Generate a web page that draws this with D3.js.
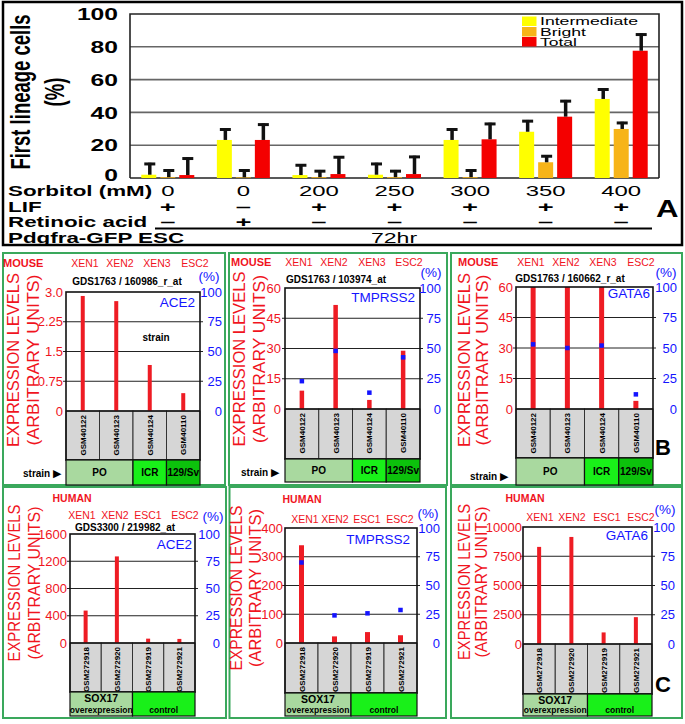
<!DOCTYPE html>
<html><head><meta charset="utf-8">
<script src="https://cdn.jsdelivr.net/npm/d3@7"></script>
<style>body{margin:0;background:#fff}svg{display:block}text{font-family:"Liberation Sans",Arial,Helvetica,sans-serif}</style>
</head><body><svg id="c" width="685" height="724"></svg>
<script>
// ---------- Panel A data ----------
const sorbitol = ["0","0","200","250","300","350","400"];
const lif = ["+","–","+","+","+","+","+"];
const retinoicAcid = ["–","+","–","–","–","–","–"];
const seriesNames = ["Intermediate","Bright","Total"];
const intermediate = [2, 23.2, 1.8, 2, 23.2, 28.2, 48.2];
const intermediateErr = [7.3, 7.1, 6.7, 7.3, 7.1, 7.2, 6.5];
const bright = [0.5, 0.4, 0.5, 0.5, 0.5, 9.6, 29.9];
const brightErr = [4.8, 4.9, 4.4, 4.4, 4.8, 4.4, 4.4];
const total = [1.8, 23.2, 2.4, 2.4, 23.6, 37.4, 77.6];
const totalErr = [10.8, 10.1, 11, 11.2, 10.1, 10.2, 10.6];
const percentTicksA = ["0","20","40","60","80","100"];

// ---------- Panels B / C data ----------
const mouseCellTypes = ["XEN1","XEN2","XEN3","ESC2"];
const mouseSamples = ["GSM40122","GSM40123","GSM40124","GSM40110"];
const mouseStrains = ["PO","ICR","129/Sv"];
const mouseStrainSpan = [2,1,1];
const humanCellTypes = ["XEN1","XEN2","ESC1","ESC2"];
const humanSamples = ["GSM272918","GSM272920","GSM272919","GSM272921"];
const humanGroups = ["SOX17\noverexpression","control"];
const humanGroupSpan = [2,2];
const percentTicks = ["0","25","50","75","100"];

const mouseACE2 = [2.9, 2.77, 1.16, 0.45];
const mouseACE2Ticks = ["0","0.75","1.5","2.25","3.0"];
const mouseTMPRSS2 = [9.1, 51.6, 4.5, 28.9];
const mouseTMPRSS2Pct = [23, 48, 13.5, 42.7];
const mouseTMPRSS2Ticks = ["0","15","30","45","60"];
const mouseGATA6 = [60, 60, 60, 4];
const mouseGATA6Pct = [53, 50, 52, 12];
const mouseGATA6Ticks = ["0","15","30","45","60"];
const humanACE2 = [476, 1271, 64, 60];
const humanACE2Ticks = ["0","400","800","1200","1600"];
const humanTMPRSS2 = [340, 23, 38, 27];
const humanTMPRSS2Pct = [70, 24, 25.8, 28.7];
const humanTMPRSS2Ticks = ["0","100","200","300","400"];
const humanGATA6 = [8300, 9150, 990, 2295];
const humanGATA6Ticks = ["0","2500","5000","7500","10000"];

// ---------- styles ----------
const GREEN = "#3aa85c", RED = "#ee1c24", TXTRED = "#f0141e", BLUE = "#1414ff";
const COLA = {Intermediate:"#ffff00", Bright:"#f7b418", Total:"#f40000"};
const svg = d3.select("#c");

function st(parent, x, y, str, o = {}) {
  const t = parent.append("text")
    .attr("transform", `translate(${x},${y}) scale(${o.sx || 1},1)` + (o.rot ? ` rotate(${o.rot})` : ""))
    .attr("text-anchor", o.anchor || "start")
    .attr("font-size", o.size || 12)
    .attr("font-weight", o.weight || "normal")
    .attr("fill", o.fill || "#000")
    .text(str);
  if (o.len) t.attr("textLength", o.len).attr("lengthAdjust", "spacingAndGlyphs");
  if (o.dy) t.attr("dy", o.dy);
  return t;
}

// =================== PANEL A ===================
(function () {
  const SX = 1.45;
  const A = {L: 130, R: 659, T: 14, B: 178};
  const g = svg.append("g");
  g.append("rect").attr("x", 3).attr("y", 2).attr("width", 679).attr("height", 243)
    .attr("fill", "none").attr("stroke", "#000").attr("stroke-width", 2.5);
  const y = d3.scaleLinear().domain([0, 100]).range([A.B, A.T]);
  const x = d3.scaleBand().domain(d3.range(sorbitol.length)).range([A.L, A.R]);
  const xs = d3.scalePoint().domain(seriesNames).range([-19, 19]);
  const ticks = percentTicksA.map(Number);
  g.selectAll(null).data(ticks.filter(d => d > 0 && d < 100)).join("line")
    .attr("x1", A.L).attr("x2", A.R).attr("y1", d => y(d)).attr("y2", d => y(d))
    .attr("stroke", "#666").attr("stroke-width", 1.6);
  g.append("path").attr("d", `M${A.L},${A.B}V${A.T}H${A.R}V${A.B}`)
    .attr("fill", "none").attr("stroke", "#222").attr("stroke-width", 1.6);
  g.append("line").attr("x1", A.L).attr("x2", A.R).attr("y1", A.B).attr("y2", A.B)
    .attr("stroke", "#222").attr("stroke-width", 1.6);
  percentTicksA.forEach(t => st(g, 118, y(+t) - (+t === 0 ? 3 : 0), t, {size: 17, weight: "bold", anchor: "end", sx: SX, dy: "0.36em"}));
  st(g, 30, 92, "First lineage cells", {size: 18.5, weight: "bold", anchor: "middle", sx: SX, rot: -90});
  st(g, 64, 92, "(%)", {size: 18.5, weight: "bold", anchor: "middle", sx: SX, rot: -90});

  const series = [
    {name: "Intermediate", v: intermediate, e: intermediateErr},
    {name: "Bright", v: bright, e: brightErr},
    {name: "Total", v: total, e: totalErr}
  ];
  const bw = 15;
  series.forEach(s => {
    const gs = g.append("g");
    const bx = i => x(i) + x.bandwidth() / 2 + xs(s.name);
    gs.selectAll("rect").data(s.v).join("rect")
      .attr("x", (d, i) => bx(i) - bw / 2)
      .attr("y", d => y(d)).attr("width", bw).attr("height", d => A.B - y(d))
      .attr("fill", COLA[s.name]);
    gs.selectAll("line.stem").data(s.v).join("line")
      .attr("x1", (d, i) => bx(i) + 1).attr("x2", (d, i) => bx(i) + 1)
      .attr("y1", d => y(d)).attr("y2", (d, i) => y(d + s.e[i]))
      .attr("stroke", "#111").attr("stroke-width", 3.5);
    gs.selectAll("line.cap").data(s.v).join("line")
      .attr("x1", (d, i) => bx(i) + 1 - 5.5).attr("x2", (d, i) => bx(i) + 1 + 5.5)
      .attr("y1", (d, i) => y(d + s.e[i]) + 1.2).attr("y2", (d, i) => y(d + s.e[i]) + 1.2)
      .attr("stroke", "#111").attr("stroke-width", 3);
  });
  // legend
  const leg = g.append("g");
  const legY = [16.5, 27, 37];
  const legLen = [98, 46, 37];
  seriesNames.forEach((n, i) => {
    leg.append("rect").attr("x", 522).attr("y", legY[i]).attr("width", 14.5).attr("height", 9.5).attr("fill", COLA[n]);
    st(leg, 540, legY[i] + 8.5, n, {size: 10, len: legLen[i]});
  });
  // condition rows
  const rowY = [195.5, 211.5, 227];
  st(g, 8, rowY[0], "Sorbitol (mM)", {size: 14, weight: "bold", sx: 1.6});
  st(g, 8, rowY[1], "LIF", {size: 14, weight: "bold", sx: 1.6});
  st(g, 8, rowY[2] - 0.5, "Retinoic acid", {size: 14, weight: "bold", sx: 1.6});
  st(g, 8, 243, "Pdgfra-GFP ESC", {size: 14, weight: "bold", sx: 1.6});
  sorbitol.forEach((s, i) => st(g, x(i) + x.bandwidth() / 2, rowY[0], s, {size: 14.5, anchor: "middle", sx: 1.65}));
  lif.forEach((s, i) => st(g, x(i) + x.bandwidth() / 2, rowY[1], s, {size: 14, weight: "bold", anchor: "middle", sx: 1.95}));
  retinoicAcid.forEach((s, i) => st(g, x(i) + x.bandwidth() / 2, rowY[2], s, {size: 14, weight: "bold", anchor: "middle", sx: 1.95}));
  g.append("line").attr("x1", 155).attr("x2", 652).attr("y1", 228.5).attr("y2", 228.5).attr("stroke", "#000").attr("stroke-width", 2);
  st(g, 394, 243, "72hr", {size: 14, anchor: "middle", sx: 1.65});
  st(g, 656, 217, "A", {size: 24, weight: "bold", sx: 1.3});
})();

// =================== PANELS B / C ===================
const mouseColors = ["#a9d99f", "#19f019", "#0cc20c"];
const humanColors = ["#a9d99f", "#19f019"];
const panels = [
  {box: [3, 253, 225, 485], sp: "MOUSE", spX: 3, spA: "start", spY: 267, types: mouseCellTypes, typeX: [85, 120, 157, 195], typeY: 267,
   gds: "GDS1763 / 160986_r_at", gdsX: 127, gdsY: 285, pctX: 209, pctY: 281,
   L: 66, R: 200, T: 292, B: 411, cellB: 460, grpB: 485, ticks: mouseACE2Ticks, values: mouseACE2, pct: null,
   gene: "ACE2", geneX: 195, geneY: 307, titleX: [13, 33], titleY: 360, titleLen: [174, 171], titleSize: 17,
   ltX: 63, rtX: 222, barW: 4, samples: mouseSamples, groups: mouseStrains, spans: mouseStrainSpan, gcol: mouseColors,
   strainLbl: [23, 473], midStrain: [156, 341]},
  {box: [229, 253, 447, 485], sp: "MOUSE", spX: 231, spA: "start", spY: 266, types: mouseCellTypes, typeX: [299, 334, 372, 409], typeY: 266,
   gds: "GDS1763 / 103974_at", gdsX: 336, gdsY: 283, pctX: 431, pctY: 277,
   L: 285, R: 420, T: 288, B: 409, cellB: 459, grpB: 482, ticks: mouseTMPRSS2Ticks, values: mouseTMPRSS2, pct: mouseTMPRSS2Pct,
   gene: "TMPRSS2", geneX: 415, geneY: 302, titleX: [239, 259], titleY: 359, titleLen: [175, 168], titleSize: 17,
   ltX: 281, rtX: 441, barW: 4.5, samples: mouseSamples, groups: mouseStrains, spans: mouseStrainSpan, gcol: mouseColors,
   strainLbl: [241, 472]},
  {box: [451, 253, 682, 485], sp: "MOUSE", spX: 458, spA: "start", spY: 266, types: mouseCellTypes, typeX: [531, 566, 603, 641], typeY: 266,
   gds: "GDS1763 / 160662_r_at", gdsX: 570, gdsY: 282, pctX: 666, pctY: 277,
   L: 516, R: 653, T: 287, B: 409, cellB: 458, grpB: 485, ticks: mouseGATA6Ticks, values: mouseGATA6, pct: mouseGATA6Pct,
   gene: "GATA6", geneX: 650, geneY: 298, titleX: [464, 482], titleY: 360, titleLen: [174, 171], titleSize: 17,
   ltX: 513, rtX: 677, barW: 5, samples: mouseSamples, groups: mouseStrains, spans: mouseStrainSpan, gcol: mouseColors,
   strainLbl: [470, 476], letter: ["B", 655, 455]},
  {box: [3, 487, 226, 718], sp: "HUMAN", spX: 72, spA: "middle", spY: 502, types: humanCellTypes, typeX: [82, 115, 148, 185], typeY: 519,
   gds: "GDS3300 / 219982_at", gdsX: 125, gdsY: 530.5, pctX: 213, pctY: 521,
   L: 70, R: 195, T: 534, B: 643, cellB: 692, grpB: 716, ticks: humanACE2Ticks, values: humanACE2, pct: null,
   gene: "ACE2", geneX: 192, geneY: 549, titleX: [14, 34], titleY: 583, titleLen: [157, 153], titleSize: 16,
   ltX: 67, rtX: 220, barW: 4, samples: humanSamples, groups: humanGroups, spans: humanGroupSpan, gcol: humanColors},
  {box: [229.5, 487, 446, 718], sp: "HUMAN", spX: 302, spA: "middle", spY: 503, types: humanCellTypes, typeX: [305, 335, 367, 400], typeY: 523,
   gds: null, pctX: 428, pctY: 518,
   L: 285, R: 417, T: 528, B: 643, cellB: 693, grpB: 716, ticks: humanTMPRSS2Ticks, values: humanTMPRSS2, pct: humanTMPRSS2Pct,
   gene: "TMPRSS2", geneX: 410, geneY: 544, titleX: [236, 255], titleY: 588, titleLen: [165, 158], titleSize: 16,
   ltX: 283, rtX: 440, barW: 5, samples: humanSamples, groups: humanGroups, spans: humanGroupSpan, gcol: humanColors},
  {box: [451, 487, 682, 718], sp: "HUMAN", spX: 525, spA: "middle", spY: 502, types: humanCellTypes, typeX: [540, 572, 607, 641], typeY: 521,
   gds: null, pctX: 665, pctY: 514,
   L: 523, R: 652, T: 527, B: 644, cellB: 694, grpB: 716, ticks: humanGATA6Ticks, values: humanGATA6, pct: null,
   gene: "GATA6", geneX: 648, geneY: 540, titleX: [464, 481], titleY: 582, titleLen: [156, 151], titleSize: 16,
   ltX: 522, rtX: 675, barW: 4, samples: humanSamples, groups: humanGroups, spans: humanGroupSpan, gcol: humanColors,
   letter: ["C", 655, 692]}
];

function drawExpr(p) {
  const g = svg.append("g");
  g.append("rect").attr("x", p.box[0]).attr("y", p.box[1]).attr("width", p.box[2] - p.box[0]).attr("height", p.box[3] - p.box[1])
    .attr("fill", "none").attr("stroke", GREEN).attr("stroke-width", 2);
  const ticks = p.ticks.map(Number);
  const y = d3.scaleLinear().domain([0, d3.max(ticks)]).range([p.B, p.T]);
  const yp = d3.scaleLinear().domain([0, 100]).range([p.B, p.T]);
  const x = d3.scaleBand().domain(p.samples).range([p.L, p.R]);
  const cx = d => x(d) + x.bandwidth() / 2;

  const tl = ["EXPRESSION LEVELS", "(ARBITRARY UNITS)"];
  tl.forEach((t, i) => st(g, p.titleX[i] + p.titleSize * 0.36, p.titleY, t,
    {size: p.titleSize, fill: TXTRED, anchor: "middle", rot: -90, len: p.titleLen[i]}));
  st(g, p.spX, p.spY, p.sp, {size: p.sp === "MOUSE" ? 11 : 10.5, weight: "bold", fill: TXTRED, anchor: p.spA});
  p.types.forEach((t, i) => st(g, p.typeX[i], p.typeY, t, {size: 10.5, fill: TXTRED, anchor: "middle"}));
  if (p.gds) st(g, p.gdsX, p.gdsY, p.gds, {size: 10, weight: "bold", anchor: "middle"});
  st(g, p.pctX, p.pctY, "(%)", {size: 13.5, fill: BLUE, anchor: "middle"});

  g.selectAll(null).data(ticks.slice(1, -1)).join("line")
    .attr("x1", p.L - 3).attr("x2", p.R + 3).attr("y1", d => y(d)).attr("y2", d => y(d))
    .attr("stroke", "#222").attr("stroke-width", 1);
  g.selectAll(null).data(p.samples).join("rect")
    .attr("x", d => x(d)).attr("y", p.B).attr("width", x.bandwidth()).attr("height", p.cellB - p.B)
    .attr("fill", "#d6d6d6").attr("stroke", "#333").attr("stroke-width", 1);
  p.samples.forEach(s => st(g, cx(s) + 3, p.B + 4, s, {size: 8, weight: "bold", anchor: "end", rot: -90}));
  g.selectAll(null).data(p.values).join("rect")
    .attr("x", (d, i) => cx(p.samples[i]) - p.barW / 2).attr("y", d => y(d))
    .attr("width", p.barW).attr("height", d => p.B - y(d)).attr("fill", RED);
  if (p.pct) g.selectAll(null).data(p.pct).join("rect")
    .attr("x", (d, i) => cx(p.samples[i]) - 2.25).attr("y", d => yp(d) - 2.25)
    .attr("width", 4.5).attr("height", 4.5).attr("fill", BLUE);
  g.append("rect").attr("x", p.L).attr("y", p.T).attr("width", p.R - p.L).attr("height", p.cellB - p.T)
    .attr("fill", "none").attr("stroke", "#111").attr("stroke-width", 1.6);
  g.append("line").attr("x1", p.L).attr("x2", p.R).attr("y1", p.B).attr("y2", p.B).attr("stroke", "#111").attr("stroke-width", 1.6);
  p.ticks.forEach(t => st(g, p.ltX, y(+t), t, {size: 13, fill: TXTRED, anchor: "end", dy: "0.36em"}));
  percentTicks.forEach(t => st(g, p.rtX, yp(+t), t, {size: 13, fill: BLUE, anchor: "end", dy: "0.36em"}));
  st(g, p.geneX, p.geneY, p.gene, {size: 13.5, fill: BLUE, anchor: "end"});
  let k = 0;
  p.groups.forEach((gn, i) => {
    const x0 = x(p.samples[k]), x1 = x(p.samples[k + p.spans[i] - 1]) + x.bandwidth();
    g.append("rect").attr("x", x0).attr("y", p.cellB).attr("width", x1 - x0).attr("height", p.grpB - p.cellB)
      .attr("fill", p.gcol[i]).attr("stroke", "#111").attr("stroke-width", 1.2);
    const lines = gn.split("\n");
    const mid = (x0 + x1) / 2;
    if (lines.length === 2) {
      st(g, mid, p.cellB + 10, lines[0], {size: 10.5, weight: "bold", anchor: "middle"});
      st(g, mid, p.grpB - 3, lines[1], {size: 8.5, weight: "bold", anchor: "middle"});
    } else if (p.sp === "HUMAN") {
      st(g, mid, p.grpB - 3, lines[0], {size: 8.5, weight: "bold", anchor: "middle"});
    } else {
      st(g, mid, (p.cellB + p.grpB) / 2 + 3.6, lines[0], {size: 10, weight: "bold", anchor: "middle"});
    }
    k += p.spans[i];
  });
  if (p.strainLbl) {
    st(g, p.strainLbl[0], p.strainLbl[1] + 3.5, "strain", {size: 10, weight: "bold"});
    st(g, p.strainLbl[0] + 30, p.strainLbl[1] + 4, "▶", {size: 11});
  }
  if (p.midStrain) st(g, p.midStrain[0], p.midStrain[1], "strain", {size: 10, weight: "bold", anchor: "middle"});
  if (p.letter) st(g, p.letter[1], p.letter[2], p.letter[0], {size: 22, weight: "bold"});
}
panels.forEach(drawExpr);
</script></body></html>
